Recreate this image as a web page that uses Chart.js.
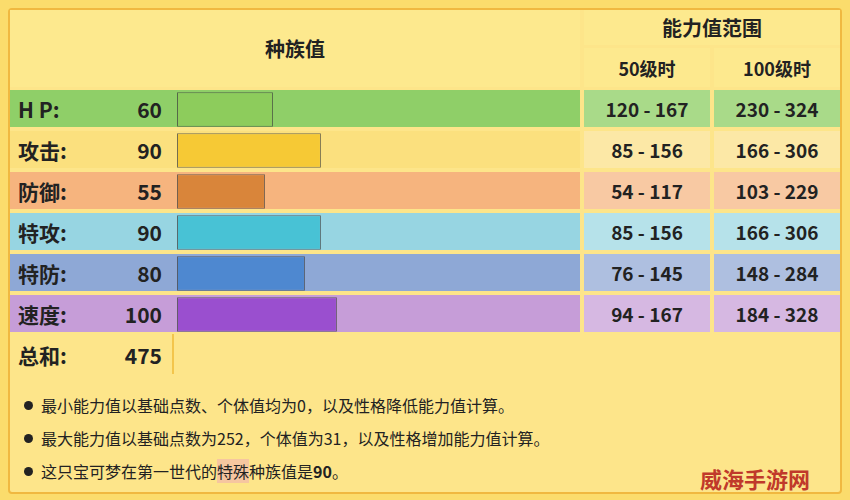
<!DOCTYPE html>
<html>
<head>
<meta charset="utf-8">
<script src="https://cdn.jsdelivr.net/npm/chart.js@4"></script>
<style>
  body { margin:0; width:850px; height:500px; background:#fbdc6c; font-family:"Noto Sans CJK SC","Noto Sans",sans-serif; overflow:hidden; }
  #wrap { position:absolute; left:0; top:0; width:850px; height:500px; }
  .c { position:absolute; box-sizing:border-box; display:flex; align-items:center; font-size:21px; color:#222; font-weight:bold; }
  .hd { background:#fde98e; justify-content:center; font-size:20px; }
  .num { justify-content:center; font-size:19px; font-weight:600; }
  .note { position:absolute; left:24px; font-size:16px; color:#222; }
  .dot { display:inline-block; width:9px; height:9px; border-radius:50%; background:#222; margin-right:8px; vertical-align:middle; position:relative; top:-2px; }
  #chartBox { position:absolute; left:177px; top:89px; width:403px; height:246px; }
</style>
</head>
<body>
<div id="wrap"></div>
<div id="chartBox"><canvas id="grafico-stats"></canvas></div>
<script>
// Datos de la tabla
const statNames = ['H P:', '攻击:', '防御:', '特攻:', '特防:', '速度:'];
const baseStats = [60, 90, 55, 90, 80, 100];
const range50 = ['120 - 167', '85 - 156', '54 - 117', '85 - 156', '76 - 145', '94 - 167'];
const range100 = ['230 - 324', '166 - 306', '103 - 229', '166 - 306', '148 - 284', '184 - 328'];
const totalStat = 475;
const rowBg = ['#8fcf68', '#fbe07e', '#f6b47e', '#97d5e2', '#8ea8d6', '#c69dd8'];
const cellBg = ['#a9da89', '#fce8a6', '#f8c9a3', '#b6e2ea', '#aebfe0', '#d6b8e2'];
const barColors = ['#8dcc5c', '#f6c935', '#d9853a', '#48c2d5', '#4e88d0', '#9a4fcf'];

const wrap = document.getElementById('wrap');
function cell(x, y, w, h, txt, cls, bg, extra) {
    const d = document.createElement('div');
    d.className = 'c ' + (cls || '');
    d.style.cssText += `left:${x}px;top:${y}px;width:${w}px;height:${h}px;` + (bg ? `background:${bg};` : '') + (extra || '');
    d.textContent = txt;
    wrap.appendChild(d);
}

// Cabecera
cell(8, 8, 834, 486, '', '', '#fde58a', 'border:2px solid #f0b840;border-radius:4px;');
cell(10, 10, 570, 77, '种族值', 'hd');
cell(584, 10, 256, 35, '能力值范围', 'hd');
cell(584, 48, 126, 39, '50级时', 'hd', '', 'font-size:18px;font-weight:600;');
cell(714, 48, 126, 39, '100级时', 'hd', '', 'font-size:18px;font-weight:600;');

// Filas
const rowTop = [90, 131, 172, 213, 254, 295];
statNames.forEach((n, i) => {
    const y = rowTop[i];
    cell(10, y, 570, 37, '', '', rowBg[i]);
    cell(18, y, 100, 37, n, '');
    cell(100, y, 62, 37, String(baseStats[i]), '', '', 'justify-content:flex-end;font-weight:600;');
    cell(584, y, 126, 37, range50[i], 'num', cellBg[i]);
    cell(714, y, 126, 37, range100[i], 'num', cellBg[i]);
});
cell(18, 336, 100, 37, '总和:', '');
cell(100, 336, 62, 37, String(totalStat), '', '', 'justify-content:flex-end;font-weight:600;');
cell(172, 334, 2, 40, '', '', '#f3c54c');

// Notas
const notes = ['最小能力值以基础点数、个体值均为0，以及性格降低能力值计算。',
    '最大能力值以基础点数为252，个体值为31，以及性格增加能力值计算。',
    '这只宝可梦在第一世代的<span style="background:#f6c6a0">特殊</span>种族值是<b>90</b>。'];
notes.forEach((t, i) => {
    const d = document.createElement('div');
    d.className = 'note';
    d.style.top = (393 + i * 33) + 'px';
    d.innerHTML = '<span class="dot"></span>' + t;
    wrap.appendChild(d);
});
const wm = document.createElement('div');
wm.className = 'note';
wm.style.cssText = 'left:700px;top:462px;font-size:22px;font-weight:bold;color:#c0392b;';
wm.textContent = '威海手游网';
wrap.appendChild(wm);

// Gráfico de barras
new Chart(document.getElementById('grafico-stats'), {
    type: 'bar',
    data: {
        labels: statNames,
        datasets: [{
            data: baseStats,
            backgroundColor: barColors,
            borderColor: 'rgba(60,60,60,0.7)',
            borderWidth: 1,
            borderSkipped: false,
            barPercentage: 0.84,
            categoryPercentage: 1
        }]
    },
    options: {
        indexAxis: 'y',
        responsive: true,
        maintainAspectRatio: false,
        animation: false,
        layout: { padding: 0 },
        plugins: { legend: { display: false }, tooltip: { enabled: false } },
        scales: {
            x: { display: false, min: 0, max: 252 },
            y: { display: false }
        }
    }
});
</script>
</body>
</html>
